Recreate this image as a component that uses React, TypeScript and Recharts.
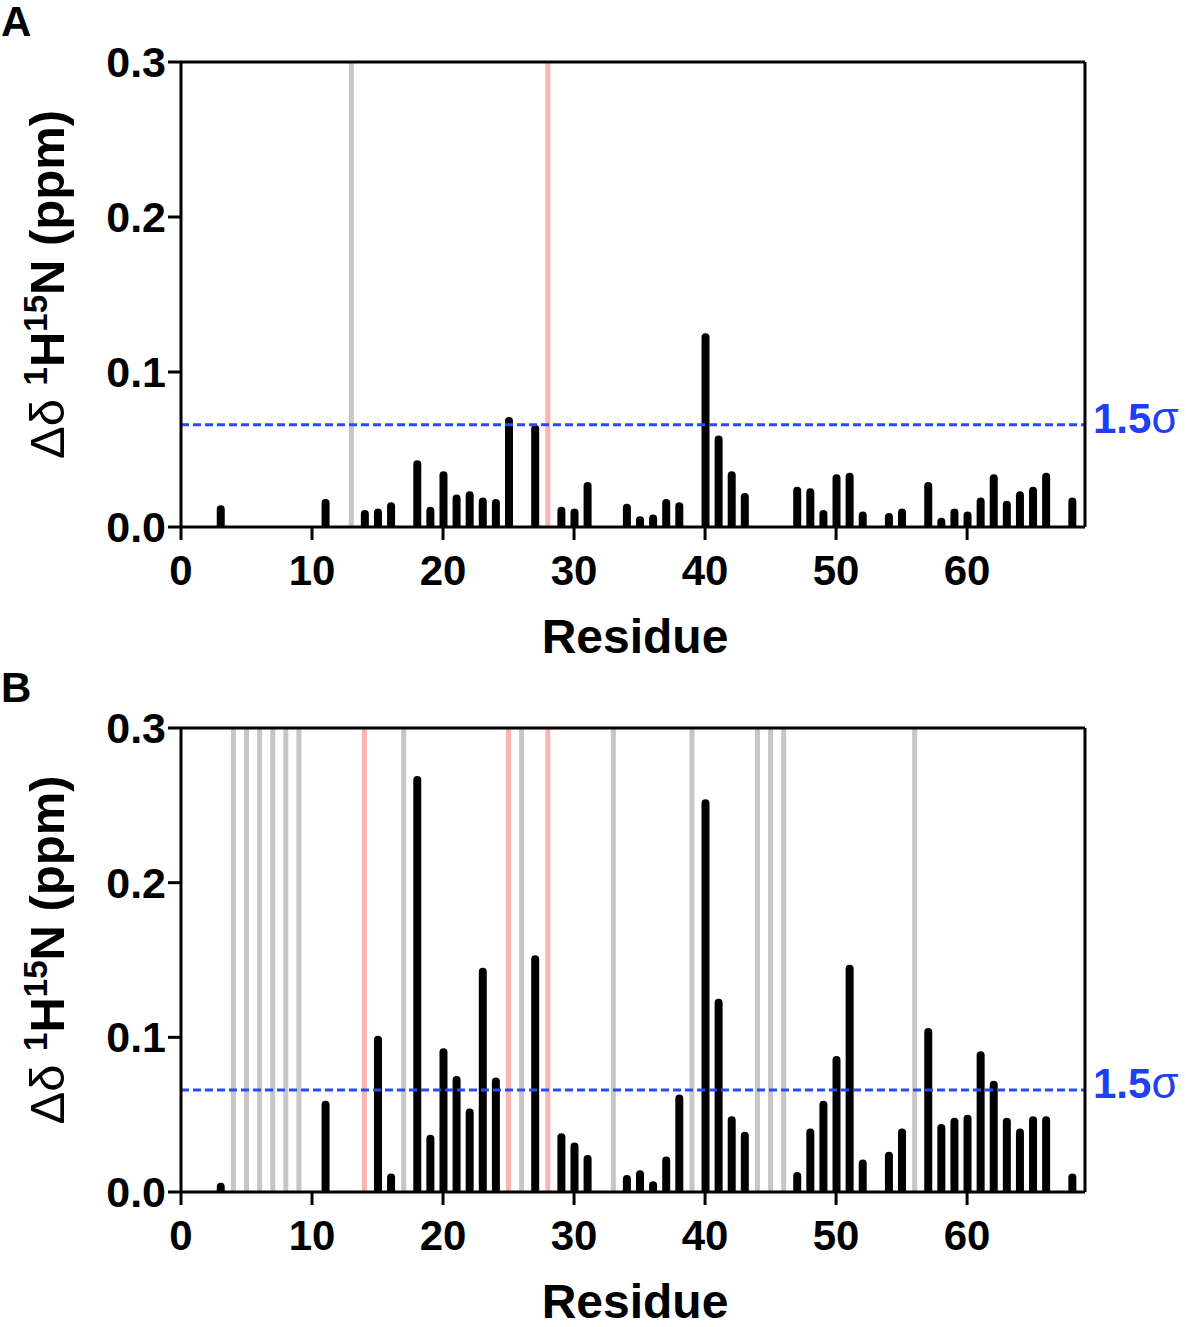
import React from 'react'
import { Bar, BarChart, ReferenceLine, XAxis, YAxis } from 'recharts'

const FONT = '"Liberation Sans", Arial, Helvetica, sans-serif'

// residue numbers and chemical shift perturbations (ppm)
const residuesA = [3, 11, 14, 15, 16, 18, 19, 20, 21, 22, 23, 24, 25, 27, 29, 30, 31, 34, 35, 36, 37, 38, 40, 41, 42, 43, 47, 48, 49, 50, 51, 52, 54, 55, 57, 58, 59, 60, 61, 62, 63, 64, 65, 66, 68]
const shiftsA = [0.014, 0.018, 0.011, 0.012, 0.016, 0.043, 0.013, 0.036, 0.021, 0.023, 0.019, 0.018, 0.071, 0.066, 0.013, 0.012, 0.029, 0.015, 0.007, 0.008, 0.018, 0.016, 0.125, 0.059, 0.036, 0.022, 0.026, 0.025, 0.011, 0.034, 0.035, 0.010, 0.009, 0.012, 0.029, 0.006, 0.012, 0.010, 0.019, 0.034, 0.017, 0.023, 0.026, 0.035, 0.019]
const greyA = [13]
const pinkA = [28]

const residuesB = [3, 11, 15, 16, 18, 19, 20, 21, 22, 23, 24, 27, 29, 30, 31, 34, 35, 36, 37, 38, 40, 41, 42, 43, 47, 48, 49, 50, 51, 52, 54, 55, 57, 58, 59, 60, 61, 62, 63, 64, 65, 66, 68]
const shiftsB = [0.006, 0.059, 0.101, 0.012, 0.269, 0.037, 0.093, 0.075, 0.054, 0.145, 0.074, 0.153, 0.038, 0.032, 0.024, 0.011, 0.014, 0.007, 0.023, 0.063, 0.254, 0.125, 0.049, 0.039, 0.013, 0.041, 0.059, 0.088, 0.147, 0.021, 0.026, 0.041, 0.106, 0.044, 0.048, 0.050, 0.091, 0.072, 0.048, 0.041, 0.049, 0.049, 0.012]
const greyB = [4, 5, 6, 7, 8, 9, 17, 26, 33, 39, 44, 45, 46, 56]
const pinkB = [14, 25, 28]

const sigmaA = 0.066
const sigmaB = 0.066

const xTicks = [0, 10, 20, 30, 40, 50, 60]
const yTicks = [0, 0.1, 0.2, 0.3]
const xMax = 69
const yMax = 0.3

const toRows = (res: number[], vals: number[]) => res.map((r, i) => ({ residue: r, shift: vals[i] }))

const XTick = ({ x, y, payload }: any) => (
  <text x={x} y={y + 43} textAnchor="middle" fontSize={42} fontWeight="bold" fontFamily={FONT} fill="#000">
    {payload.value}
  </text>
)

const YTick = ({ x, y, payload }: any) => (
  <text x={x} y={y + 15} textAnchor="end" fontSize={43} fontWeight="bold" fontFamily={FONT} fill="#000">
    {Number(payload.value).toFixed(1)}
  </text>
)

const XLabel = ({ viewBox }: any) => (
  <text
    x={viewBox.x + viewBox.width / 2 + 2}
    y={viewBox.y + 126}
    textAnchor="middle"
    fontSize={48}
    fontWeight="bold"
    fontFamily={FONT}
    fill="#000"
  >
    Residue
  </text>
)

const YLabel = ({ viewBox }: any) => {
  const cy = viewBox.y + viewBox.height / 2 - 10
  const bx = 64
  return (
    <text
      x={bx}
      y={cy}
      transform={`rotate(-90, ${bx}, ${cy})`}
      textAnchor="middle"
      fontSize={49}
      fontWeight="bold"
      fontFamily={FONT}
      fill="#000"
    >
      <tspan fontWeight="normal">Δδ </tspan>
      <tspan fontSize={33} dy={-17}>1</tspan>
      <tspan dy={17}>H</tspan>
      <tspan fontSize={33} dy={-17}>15</tspan>
      <tspan dy={17}>N (ppm)</tspan>
    </text>
  )
}

const SigmaLabel = ({ viewBox }: any) => (
  <text
    x={viewBox.x + viewBox.width + 8}
    y={viewBox.y + 8}
    fontSize={42}
    fontWeight="bold"
    fontFamily={FONT}
    fill="#1f3ff5"
  >
    1.5<tspan fontWeight="normal" fontSize={44}>σ</tspan>
  </text>
)

function Panel({ letter, top, height, xAxisHeight, data, grey, pink, sigma }: any) {
  return (
    <div style={{ position: 'absolute', left: 0, top, width: 1186, height }}>
      <div
        style={{
          position: 'absolute',
          left: 1,
          top: 1,
          fontFamily: FONT,
          fontWeight: 'bold',
          fontSize: 42,
          lineHeight: '42px',
        }}
      >
        {letter}
      </div>
      <BarChart width={1186} height={height} data={data} margin={{ top: 62, right: 101, bottom: 0, left: 0 }}>
        <XAxis
          dataKey="residue"
          type="number"
          domain={[0, xMax]}
          ticks={xTicks}
          height={xAxisHeight}
          tickSize={13}
          axisLine={{ stroke: '#000', strokeWidth: 3 }}
          tickLine={{ stroke: '#000', strokeWidth: 3 }}
          tick={<XTick />}
          label={(props: any) => <XLabel {...props} />}
        />
        <YAxis
          type="number"
          domain={[0, yMax]}
          ticks={yTicks}
          width={181}
          tickSize={13}
          axisLine={{ stroke: '#000', strokeWidth: 3 }}
          tickLine={{ stroke: '#000', strokeWidth: 3 }}
          tick={<YTick />}
          label={(props: any) => <YLabel {...props} />}
        />
        {grey.map((g: number) => (
          <ReferenceLine key={'g' + g} x={g} stroke="#c6c6c6" strokeWidth={5} />
        ))}
        {pink.map((p: number) => (
          <ReferenceLine key={'p' + p} x={p} stroke="#f9b4b4" strokeWidth={5} />
        ))}
        <ReferenceLine
          y={sigma}
          stroke="#2a4cf6"
          strokeWidth={3}
          strokeDasharray="8 4"
          label={(props: any) => <SigmaLabel {...props} />}
        />
        <ReferenceLine y={yMax} stroke="#000" strokeWidth={3} />
        <ReferenceLine x={xMax} stroke="#000" strokeWidth={3} />
        <Bar dataKey="shift" fill="#000" barSize={8} radius={[4, 4, 0, 0]} isAnimationActive={false} />
      </BarChart>
    </div>
  )
}

export default function App() {
  return (
    <div style={{ position: 'absolute', left: 0, top: 0, width: 1186, height: 1327, background: '#fff' }}>
      <Panel letter="A" top={0} height={665} xAxisHeight={138} data={toRows(residuesA, shiftsA)} grey={greyA} pink={pinkA} sigma={sigmaA} />
      <Panel letter="B" top={666} height={661} xAxisHeight={135} data={toRows(residuesB, shiftsB)} grey={greyB} pink={pinkB} sigma={sigmaB} />
    </div>
  )
}
